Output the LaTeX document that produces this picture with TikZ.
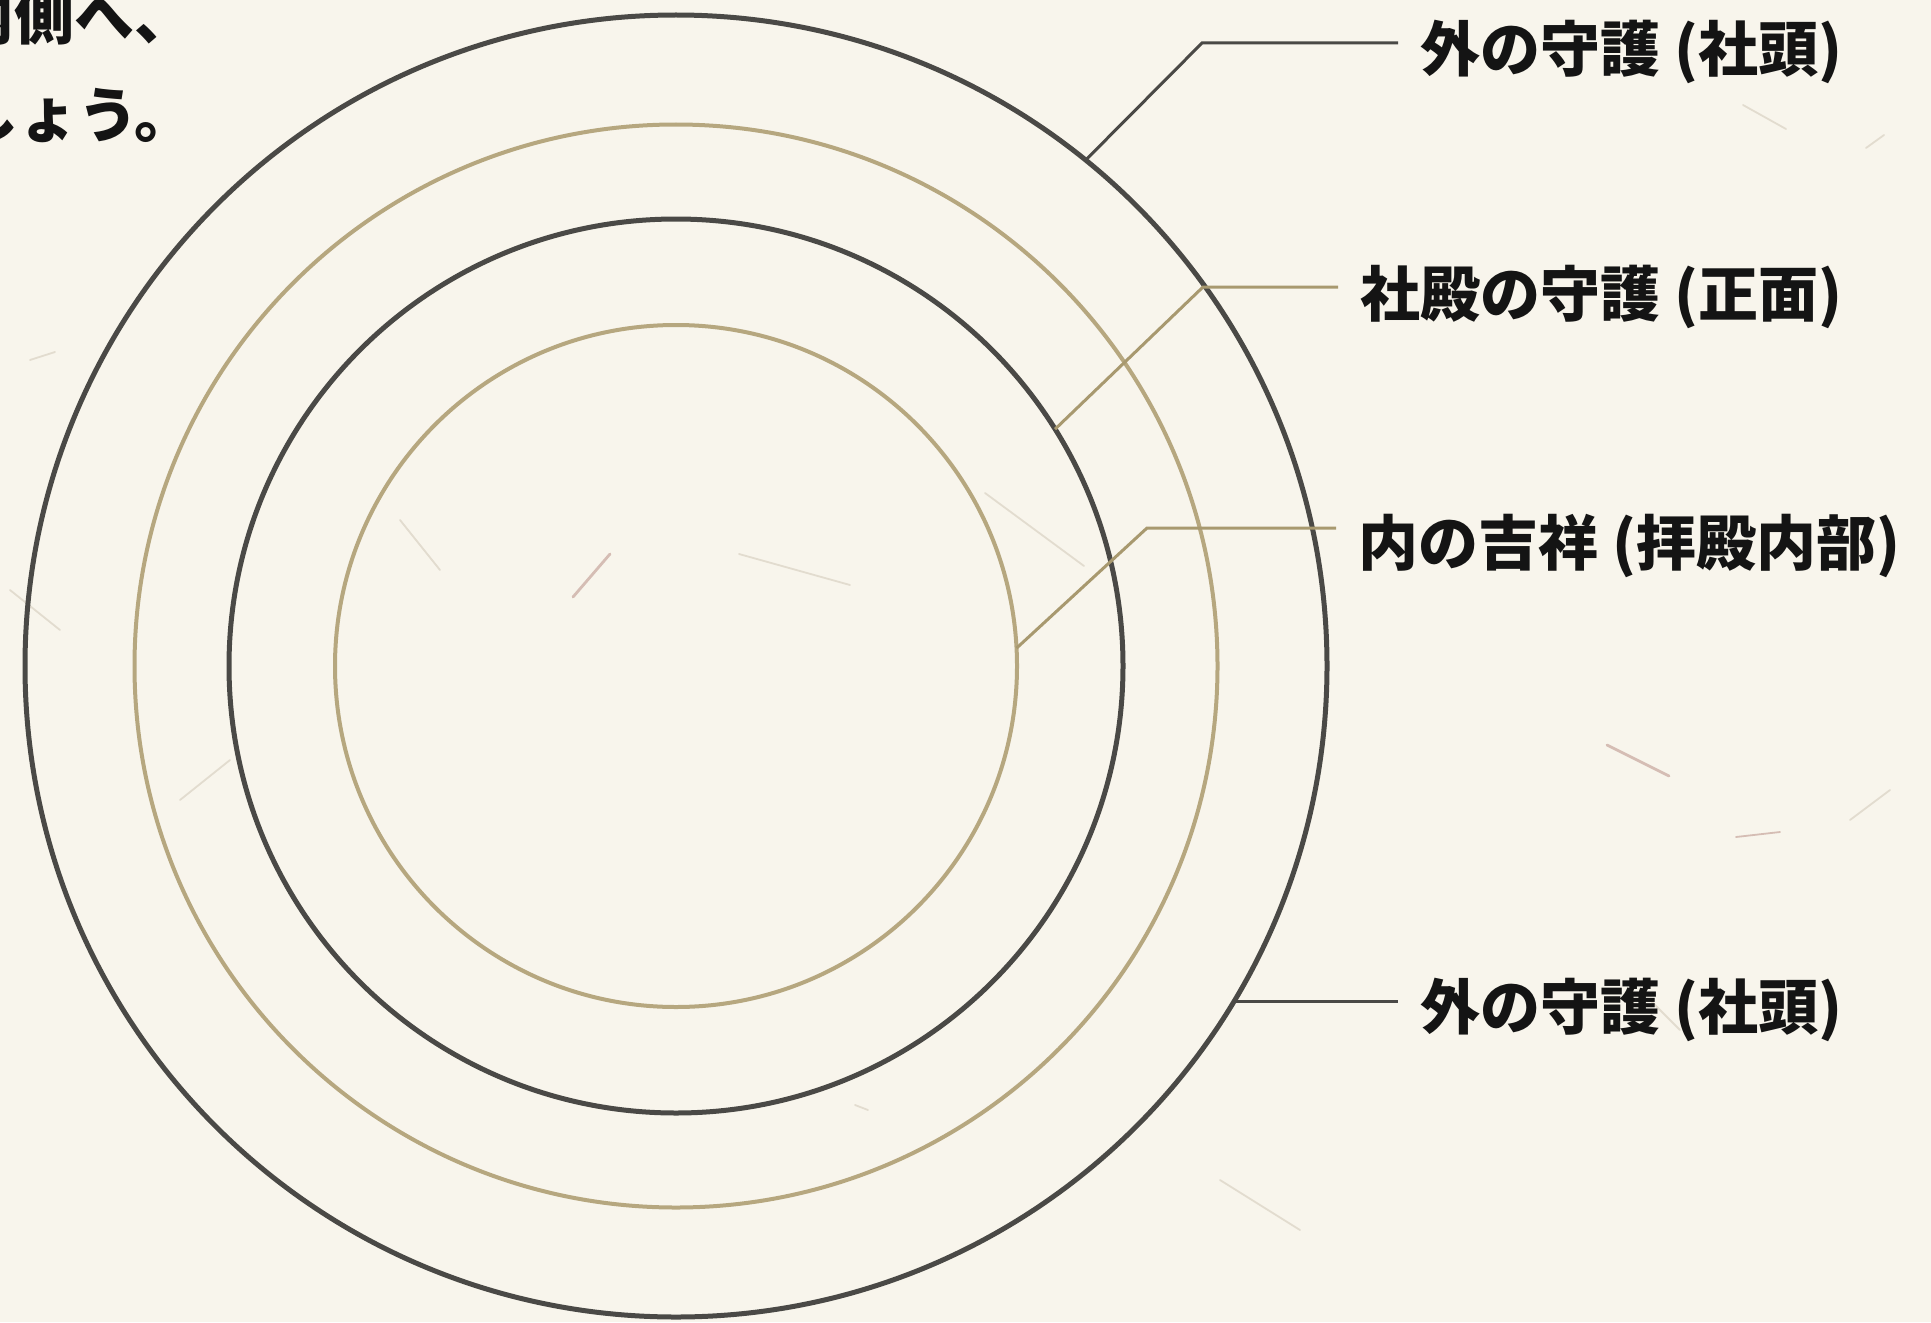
\documentclass[tikz,border=0pt]{standalone}
\usepackage{fontspec}
\newfontfamily\jpfont{Noto Sans CJK JP}
\definecolor{bg}{HTML}{F8F5EC}
\definecolor{ink}{HTML}{4A4946}
\definecolor{gold}{HTML}{B6A77F}
\definecolor{goldline}{HTML}{A8996F}
\definecolor{fiber}{HTML}{DDD6C8}
\definecolor{fiberred}{HTML}{CDAFA6}
\begin{document}
\begin{tikzpicture}[x=0.5pt,y=-0.5pt,
  ring/.style={circle,draw,inner sep=0pt,outer sep=0pt},
  darkring/.style={ring,draw=ink,line width=2.5pt},
  goldring/.style={ring,draw=gold,line width=2.0pt},
  lead/.style={line width=1.5pt},
  fib/.style={draw=fiber,line width=0.9pt,line cap=round,opacity=0.8},
  jptext/.style={font=\jpfont\bfseries\fontsize{30pt}{36pt}\selectfont,text=black!92},
  lbl/.style={jptext,anchor=base west,inner xsep=11pt,inner ysep=0pt}]
\useasboundingbox (0,0) rectangle (1931,1322);
\fill[bg] (0,0) rectangle (1931,1322);
% paper fibres
\draw[fib,draw=fiberred,line width=1.4pt] (573,597) -- (610,554);
\draw[fib,draw=fiberred,line width=1.4pt] (1607,745) -- (1669,776);
\draw[fib,draw=fiberred] (1736,837) -- (1780,832);
\draw[fib] (1743,105) -- (1786,129);
\draw[fib] (1866,148) -- (1884,135);
\draw[fib] (739,554) -- (850,585);
\draw[fib] (985,493) -- (1084,566);
\draw[fib] (400,520) -- (440,570);
\draw[fib] (10,590) -- (60,630);
\draw[fib] (30,360) -- (55,352);
\draw[fib] (1650,1000) -- (1680,1030);
\draw[fib] (1850,820) -- (1890,790);
\draw[fib] (1220,1180) -- (1300,1230);
\draw[fib] (180,800) -- (230,760);
\draw[fib] (855,1105) -- (868,1110);
% rings
\node[darkring,minimum size=651pt] (outer) at (676,666) {};
\node[goldring,minimum size=541.5pt] (ring2) at (676,666) {};
\node[darkring,minimum size=447pt] (ring3) at (676,666) {};
\node[goldring,minimum size=341pt] (ring4) at (676,666) {};
% labels
\node[lbl] (lab1) at (1398,72) {外の守護 (社頭)};
\node[lbl] (lab2) at (1338,316) {社殿の守護 (正面)};
\node[lbl] (lab3) at (1336,565) {内の吉祥 (拝殿内部)};
\node[lbl] (lab4) at (1398,1029) {外の守護 (社頭)};
% top-left (cropped) text
\node[jptext,anchor=base east,inner sep=0pt] (t1) at (195,40) {内側へ、};
\node[jptext,anchor=base east,inner sep=0pt] (t2) at (195,138) {ましょう。};
% leader lines
\coordinate (c1) at (1202,43);
\coordinate (c2) at (1203,287);
\coordinate (c3) at (1147,528);
\draw[lead,draw=ink] (outer.51) -- (c1) -- (c1 -| lab1.west);
\draw[lead,draw=goldline] (ring3.32) -- (c2) -- (c2 -| lab2.west);
\draw[lead,draw=goldline] (ring4.3) -- (c3) -- (c3 -| lab3.west);
\draw[lead,draw=ink] (outer.-31) -- (outer.-31 -| lab4.west);
\end{tikzpicture}
\end{document}
